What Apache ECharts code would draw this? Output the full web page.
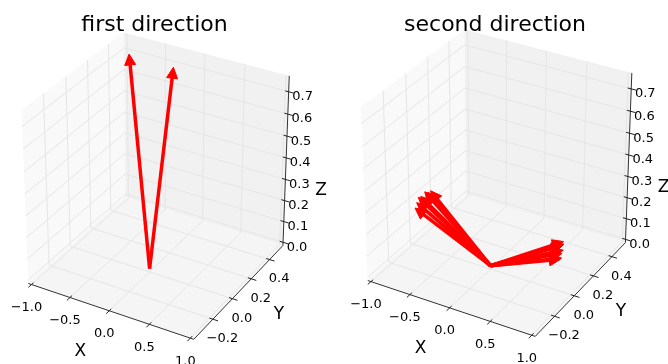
<!DOCTYPE html>
<html>
<head>
<meta charset="utf-8">
<script src="https://cdn.jsdelivr.net/npm/echarts@6/dist/echarts.min.js"></script>
<style>
  html, body { margin: 0; padding: 0; background: #fff; }
  #chart { width: 668px; height: 364px; }
</style>
</head>
<body>
<div id="chart"></div>
<script>
// axis limits (same for both subplots)
const xLim = [-1, 1]
const yLim = [-0.371, 0.531]
const zLim = [0, 0.755]

// ticks and their labels
const xTicks = [-1.0, -0.5, 0.0, 0.5, 1.0]
const yTicks = [-0.2, 0.0, 0.2, 0.4]
const zTicks = [0.0, 0.1, 0.2, 0.3, 0.4, 0.5, 0.6, 0.7]
const xTickLabels = ['\u22121.0', '\u22120.5', '0.0', '0.5', '1.0']
const yTickLabels = ['\u22120.2', '0.0', '0.2', '0.4']
const zTickLabels = ['0.0', '0.1', '0.2', '0.3', '0.4', '0.5', '0.6', '0.7']
const axisNames = ['X', 'Y', 'Z']

const titles = ['first direction', 'second direction']

// quiver vectors, all tails at the origin
const firstU = [-0.735, -0.272]
const firstV = [0.37, 0.45]
const firstW = [0.765, 0.72]

const secondU = [-0.78, -0.80, -0.82, -0.83, -0.82, -0.81, -0.80, 0.56, 0.59, 0.61, 0.64, 0.66, 0.68, 0.70]
const secondV = [-0.13, -0.10, -0.07, -0.04, -0.01, 0.01, 0.03, 0.29, 0.27, 0.24, 0.22, 0.19, 0.17, 0.14]
const secondW = [0.24, 0.25, 0.26, 0.25, 0.26, 0.25, 0.25, 0.05, 0.05, 0.06, 0.05, 0.05, 0.04, 0.05]

// view like matplotlib's default 3d axes
const ELEV = 30
const AZIM = -60
const DIST = 10

function paneBounds(lim) {
  const d = (lim[1] - lim[0]) / 48
  return [lim[0] - d, lim[1] + d]
}
const XB = paneBounds(xLim)
const YB = paneBounds(yLim)
const ZB = paneBounds(zLim)
const ticksByAxis = [xTicks, yTicks, zTicks]
const labelsByAxis = [xTickLabels, yTickLabels, zTickLabels]

const re = ELEV * Math.PI / 180
const ra = AZIM * Math.PI / 180
const nVec = [Math.cos(re) * Math.cos(ra), Math.cos(re) * Math.sin(ra), Math.sin(re)]
const uLen = Math.hypot(nVec[0], nVec[1])
const uVec = [-nVec[1] / uLen, nVec[0] / uLen, 0]
const vVec = [
  nVec[1] * uVec[2] - nVec[2] * uVec[1],
  nVec[2] * uVec[0] - nVec[0] * uVec[2],
  nVec[0] * uVec[1] - nVec[1] * uVec[0]
]
const dot = (a, b) => a[0] * b[0] + a[1] * b[1] + a[2] * b[2]

// data point -> projected 2d coordinate (plotted on hidden value axes)
function project(p) {
  const q = [
    (p[0] - XB[0]) / (XB[1] - XB[0]) - 0.5,
    (p[1] - YB[0]) / (YB[1] - YB[0]) - 0.5,
    (p[2] - ZB[0]) / (ZB[1] - ZB[0]) - 0.5
  ]
  const w = DIST - dot(nVec, q)
  return [dot(uVec, q) / w, dot(vVec, q) / w]
}
function toPx(api, p) {
  return api.coord(project(p))
}

const FONT = 'DejaVu Sans'

function textEl(x, y, text, size) {
  return {
    type: 'text',
    x: x,
    y: y,
    style: {
      text: text,
      fill: '#000',
      fontSize: size,
      fontFamily: FONT,
      align: 'center',
      verticalAlign: 'middle',
      textAlign: 'center',
      textVerticalAlign: 'middle'
    }
  }
}

// which plane each pane sits on
function paneCorners(k) {
  if (k === 0) return [[XB[0], YB[0], ZB[0]], [XB[0], YB[1], ZB[0]], [XB[0], YB[1], ZB[1]], [XB[0], YB[0], ZB[1]]]
  if (k === 1) return [[XB[0], YB[1], ZB[0]], [XB[1], YB[1], ZB[0]], [XB[1], YB[1], ZB[1]], [XB[0], YB[1], ZB[1]]]
  return [[XB[0], YB[0], ZB[0]], [XB[1], YB[0], ZB[0]], [XB[1], YB[1], ZB[0]], [XB[0], YB[1], ZB[0]]]
}
const paneColors = ['#f9f9f9', '#f1f1f1', '#f5f5f5']

function gridPath(axis, t) {
  if (axis === 0) return [[t, YB[0], ZB[0]], [t, YB[1], ZB[0]], [t, YB[1], ZB[1]]]
  if (axis === 1) return [[XB[1], t, ZB[0]], [XB[0], t, ZB[0]], [XB[0], t, ZB[1]]]
  return [[XB[1], YB[1], t], [XB[0], YB[1], t], [XB[0], YB[0], t]]
}
function axisLine(axis) {
  if (axis === 0) return [[XB[0], YB[0], ZB[0]], [XB[1], YB[0], ZB[0]]]
  if (axis === 1) return [[XB[1], YB[0], ZB[0]], [XB[1], YB[1], ZB[0]]]
  return [[XB[1], YB[1], ZB[0]], [XB[1], YB[1], ZB[1]]]
}
function tickBase(axis, t) {
  if (axis === 0) return [t, YB[0], ZB[0]]
  if (axis === 1) return [XB[1], t, ZB[0]]
  return [XB[1], YB[1], t]
}
// tick direction: x ticks point along -y, y and z ticks along +x
function tickEnds(axis, t) {
  const b = tickBase(axis, t)
  const a = b.slice()
  const c = b.slice()
  if (axis === 0) {
    const d = YB[1] - YB[0]
    a[1] -= 0.03 * d; c[1] += 0.02 * d
  } else {
    const d = XB[1] - XB[0]
    a[0] += 0.03 * d; c[0] -= 0.02 * d
  }
  return [a, c]
}
const labelOffsets = [[-5, 23], [9.5, 19.5], [14, 5]]
const nameOffsets = [[-29, 41], [39, 24], [35, 28]]

const tickData = []
ticksByAxis.forEach((ticks, axis) => {
  ticks.forEach((t, i) => tickData.push([axis, t, i]))
})

const panels = [
  {
    u: firstU, v: firstV, w: firstW,
    grid: { left: 0, top: 0, width: 334, height: 364 },
    xr: [-0.08251, 0.09236], yr: [-0.09267, 0.09126],
    titleX: 154.5
  },
  {
    u: secondU, v: secondV, w: secondW,
    grid: { left: 334, top: 0, width: 334, height: 364 },
    xr: [-0.08515, 0.08764], yr: [-0.09414, 0.08979],
    titleX: 495
  }
]

const grids = []
const xAxes = []
const yAxes = []
const series = []
const titleOpts = []

panels.forEach((pn, gi) => {
  grids.push(Object.assign({ containLabel: false }, pn.grid))
  xAxes.push({ type: 'value', gridIndex: gi, min: pn.xr[0], max: pn.xr[1], show: false })
  yAxes.push({ type: 'value', gridIndex: gi, min: pn.yr[0], max: pn.yr[1], show: false })
  titleOpts.push({
    text: titles[gi],
    left: pn.titleX,
    top: 14,
    padding: 0,
    textAlign: 'center',
    textStyle: { fontSize: 22, fontWeight: 'normal', color: '#000', fontFamily: FONT }
  })

  const base = { type: 'custom', coordinateSystem: 'cartesian2d', xAxisIndex: gi, yAxisIndex: gi, silent: true, animation: false }

  // panes
  series.push(Object.assign({}, base, {
    z: 1,
    data: [[0], [1], [2]],
    renderItem: (params, api) => {
      const k = api.value(0)
      return {
        type: 'polygon',
        shape: { points: paneCorners(k).map(p => toPx(api, p)) },
        style: { fill: paneColors[k], stroke: null }
      }
    }
  }))

  // grid lines
  series.push(Object.assign({}, base, {
    z: 2,
    data: tickData,
    renderItem: (params, api) => {
      const pts = gridPath(api.value(0), api.value(1)).map(p => toPx(api, p))
      return {
        type: 'polyline',
        shape: { points: pts },
        style: { stroke: '#e6e6e6', lineWidth: 1, fill: null }
      }
    }
  }))

  // axis lines
  series.push(Object.assign({}, base, {
    z: 3,
    data: [[0], [1], [2]],
    renderItem: (params, api) => {
      const ends = axisLine(api.value(0)).map(p => toPx(api, p))
      return {
        type: 'line',
        shape: { x1: ends[0][0], y1: ends[0][1], x2: ends[1][0], y2: ends[1][1] },
        style: { stroke: '#333', lineWidth: 1 }
      }
    }
  }))

  // tick marks and labels
  series.push(Object.assign({}, base, {
    z: 4,
    data: tickData,
    renderItem: (params, api) => {
      const axis = api.value(0)
      const t = api.value(1)
      const idx = api.value(2)
      const e = tickEnds(axis, t).map(p => toPx(api, p))
      const b = toPx(api, tickBase(axis, t))
      const off = labelOffsets[axis]
      return {
        type: 'group',
        children: [
          {
            type: 'line',
            shape: { x1: e[0][0], y1: e[0][1], x2: e[1][0], y2: e[1][1] },
            style: { stroke: '#222', lineWidth: 1 }
          },
          textEl(b[0] + off[0], b[1] + off[1], labelsByAxis[axis][idx], 13)
        ]
      }
    }
  }))

  // axis names
  series.push(Object.assign({}, base, {
    z: 4,
    data: [[0], [1], [2]],
    renderItem: (params, api) => {
      const axis = api.value(0)
      let p
      if (axis === 0) p = [(xLim[0] + xLim[1]) / 2, YB[0], ZB[0]]
      else if (axis === 1) p = [XB[1], (yLim[0] + yLim[1]) / 2, ZB[0]]
      else p = [XB[1], YB[1], (zLim[0] + zLim[1]) / 2]
      const b = toPx(api, p)
      const off = nameOffsets[axis]
      return textEl(b[0] + off[0], b[1] + off[1], axisNames[axis], 17)
    }
  }))

  // arrows (quiver)
  const arrowData = pn.u.map((u, i) => [0, 0, 0, u, pn.v[i], pn.w[i]])
  series.push(Object.assign({}, base, {
    z: 5,
    data: arrowData,
    renderItem: (params, api) => {
      const p0 = toPx(api, [api.value(0), api.value(1), api.value(2)])
      const p1 = toPx(api, [api.value(0) + api.value(3), api.value(1) + api.value(4), api.value(2) + api.value(5)])
      const dx = p1[0] - p0[0]
      const dy = p1[1] - p0[1]
      const len = Math.hypot(dx, dy) || 1
      const ux = dx / len
      const uy = dy / len
      const headLen = 11
      const headHalf = 5.5
      const bx = p1[0] - ux * headLen
      const by = p1[1] - uy * headLen
      return {
        type: 'group',
        children: [
          {
            type: 'line',
            shape: { x1: p0[0], y1: p0[1], x2: bx + ux * 3, y2: by + uy * 3 },
            style: { stroke: '#ff0000', lineWidth: 3.5, lineCap: 'butt' }
          },
          {
            type: 'polygon',
            shape: { points: [[p1[0], p1[1]], [bx - uy * headHalf, by + ux * headHalf], [bx + uy * headHalf, by - ux * headHalf]] },
            style: { fill: '#ff0000', stroke: '#ff0000', lineWidth: 1 }
          }
        ]
      }
    }
  }))
})

const chart = echarts.init(document.getElementById('chart'))
chart.setOption({
  backgroundColor: '#fff',
  animation: false,
  title: titleOpts,
  grid: grids,
  xAxis: xAxes,
  yAxis: yAxes,
  series: series
})
</script>
</body>
</html>
